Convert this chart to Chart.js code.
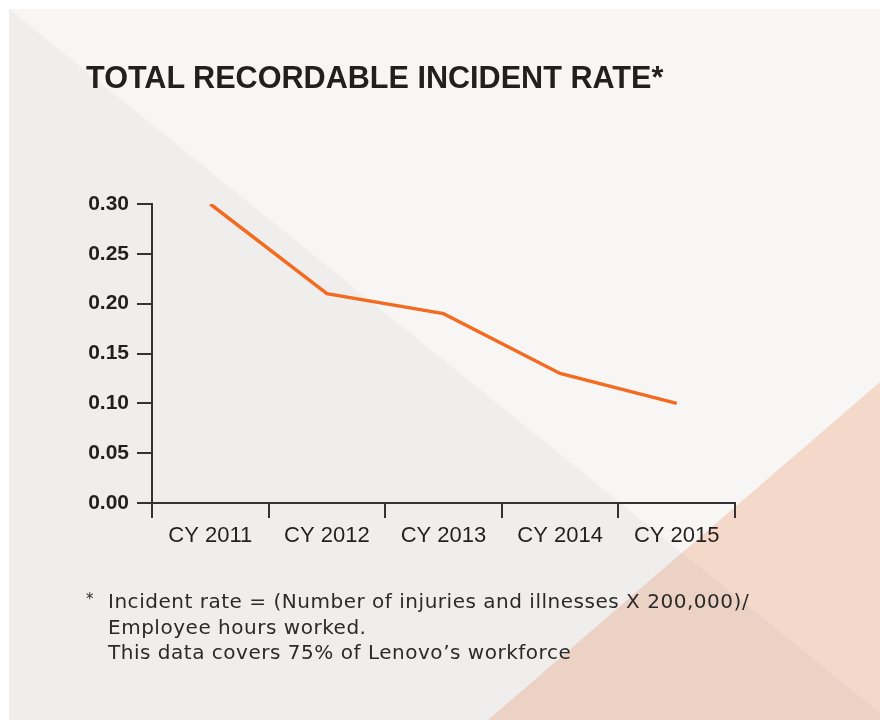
<!DOCTYPE html>
<html>
<head>
<meta charset="utf-8">
<script src="https://cdn.jsdelivr.net/npm/chart.js@4.4.1/dist/chart.umd.min.js"></script>
<style>
  html, body { margin: 0; padding: 0; background: #ffffff; }
  #wrap { position: relative; width: 880px; height: 720px; overflow: hidden; }
  #myChart { position: absolute; left: 0; top: 0; }
  #title {
    position: absolute; left: 86px; top: 62px; margin: 0;
    font: bold 30.6px "Liberation Sans", Arial, sans-serif; line-height: 30px;
    color: #231f20; white-space: nowrap;
  }
  #note {
    position: absolute; left: 108px; top: 589px;
    font: 20px "DejaVu Sans", sans-serif; line-height: 25.5px; letter-spacing: 0.52px;
    color: #2b2a29; white-space: nowrap;
  }
  #star {
    position: absolute; left: 86px; top: 590px;
    font: 15px "DejaVu Sans", sans-serif; color: #2b2a29;
  }
</style>
</head>
<body>
<div id="wrap">
  <canvas id="myChart" width="880" height="720"></canvas>
  <h1 id="title">TOTAL RECORDABLE INCIDENT RATE*</h1>
  <div id="star">*</div>
  <div id="note">Incident rate = (Number of injuries and illnesses X 200,000)/<br>Employee hours worked.<br>This data covers 75% of Lenovo’s workforce</div>
</div>
<script>
// data
var years = ["CY 2011", "CY 2012", "CY 2013", "CY 2014", "CY 2015"];
var rates = [0.30, 0.21, 0.19, 0.13, 0.10];
var yMin = 0, yMax = 0.30, yStep = 0.05;

var axisColor = "#333333";
var lineColor = "#f26b21";

// background panel with the two diagonal shapes
var backdrop = {
  id: "backdrop",
  beforeDraw: function(chart) {
    var ctx = chart.ctx;
    ctx.save();
    ctx.fillStyle = "#ffffff";
    ctx.fillRect(0, 0, 880, 720);
    ctx.fillStyle = "#f7f6f4";
    ctx.fillRect(9, 9, 871, 711);
    ctx.fillStyle = "#efeeec";
    ctx.beginPath();
    ctx.moveTo(9, 9);
    ctx.lineTo(889, 720);
    ctx.lineTo(9, 720);
    ctx.closePath();
    ctx.fill();
    ctx.globalCompositeOperation = "multiply";
    ctx.fillStyle = "#fce1d4";
    ctx.beginPath();
    ctx.moveTo(880, 382);
    ctx.lineTo(880, 720);
    ctx.lineTo(488, 720);
    ctx.closePath();
    ctx.fill();
    ctx.restore();
  }
};

new Chart("myChart", {
  type: "line",
  data: {
    labels: years,
    datasets: [{
      data: rates,
      borderColor: lineColor,
      borderWidth: 3.5,
      pointRadius: 0,
      tension: 0,
      fill: false
    }]
  },
  plugins: [backdrop],
  options: {
    responsive: false,
    animation: false,
    layout: { padding: { left: 0, top: 204, right: 145, bottom: 157 } },
    plugins: {
      legend: { display: false },
      tooltip: { enabled: false }
    },
    scales: {
      x: {
        type: "category",
        offset: true,
        afterFit: function(scale) { scale.height = 60; },
        grid: {
          offset: true,
          drawOnChartArea: false,
          drawTicks: true,
          tickLength: 15,
          color: axisColor,
          lineWidth: 2
        },
        border: { display: true, color: axisColor, width: 2 },
        ticks: {
          color: "#231f20",
          padding: 5,
          maxRotation: 0,
          font: { family: "'Liberation Sans', Arial, sans-serif", size: 22 }
        }
      },
      y: {
        min: yMin,
        max: yMax,
        afterFit: function(scale) { scale.width = 152; },
        grid: {
          drawOnChartArea: false,
          drawTicks: true,
          tickLength: 15,
          color: axisColor,
          lineWidth: 2
        },
        border: { display: true, color: axisColor, width: 2 },
        ticks: {
          stepSize: yStep,
          color: "#231f20",
          padding: 8,
          font: { family: "'Liberation Sans', Arial, sans-serif", size: 21, weight: "bold" },
          callback: function(value) { return value.toFixed(2); }
        }
      }
    }
  }
});
</script>
</body>
</html>
